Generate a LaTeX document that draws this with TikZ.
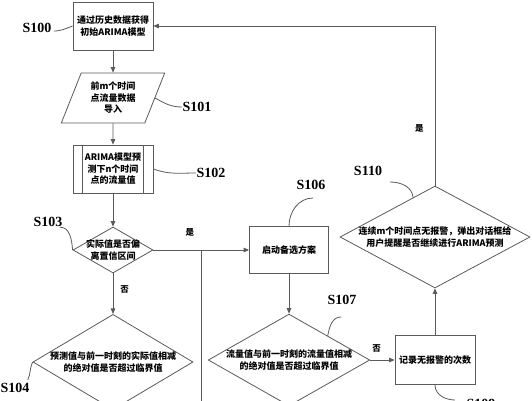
\documentclass[tikz,border=0pt]{standalone}
\usepackage{fontspec}
\setmainfont{Liberation Serif}
\newfontfamily\cjk{Noto Sans CJK SC}
\usetikzlibrary{arrows.meta,shapes.geometric}
\definecolor{lineGris}{HTML}{5A5A5A}

\begin{document}
\begin{tikzpicture}[
        x=1pt,
        y=1pt,
        >={Triangle[length=5.5pt,width=4.5pt]},
        line width=0.8pt,
        every node/.style={font=\cjk\bfseries\fontsize{9}{11.5}\selectfont, align=center, inner sep=0pt},
        box/.style={draw=lineGris, rectangle, minimum width=80pt, minimum height=48pt},
        io/.style={draw=lineGris, trapezium, trapezium left angle=66, trapezium right angle=114,
            trapezium stretches=true, minimum width=104pt, minimum height=50pt},
        dec/.style={draw=lineGris, diamond},
        flow/.style={->, draw=lineGris},
        lead/.style={draw=lineGris},
        tag/.style={font=\rmfamily\bfseries\fontsize{14}{16}\selectfont},
        yn/.style={font=\cjk\bfseries\fontsize{8.5}{10}\selectfont}
    ]
        \useasboundingbox (0,0) rectangle (532,-400);

        % Main column: steps S100 to S104.
        \node[box] (b100) at (113,-26) {通过历史数据获得\\初始ARIMA模型};
        \node[io] (p101) at (113,-98) {前m个时间\\点流量数据\\导入};
        \node[box] (b102) at (113,-169) {ARIMA模型预\\测下n个时间\\点的流量值};
        \draw[lead] ([xshift=10pt]b102.north west) -- ([xshift=10pt]b102.south west);
        \draw[lead] ([xshift=-10pt]b102.north east) -- ([xshift=-10pt]b102.south east);
        \node[dec, minimum width=80pt, minimum height=46pt, aspect=1.74, inner xsep=-5pt] (d103) at (113,-250) {实际值是否偏\\离置信区间};
        \node[dec, minimum width=158pt, minimum height=94pt, aspect=1.68] (d104) at (113,-362) {预测值与前一时刻的实际值相减\\的绝对值是否超过临界值};

        % Right part: S106 to S110.
        \node[box, minimum width=79pt, minimum height=47pt] (b106) at (289,-250) {启动备选方案};
        \node[dec, minimum width=158pt, minimum height=90pt, aspect=1.76] (d107) at (289,-360) {流量值与前一时刻的流量值相减\\的绝对值是否超过临界值};
        \node[box, minimum height=49pt] (b109) at (435,-360) {记录无报警的次数};
        \node[dec, minimum width=190pt, minimum height=102pt, aspect=1.86, inner xsep=-2pt] (d110) at (435,-237) {连续m个时间点无报警，弹出对话框给\\用户提醒是否继续进行ARIMA预测};

        % Connectors.
        \draw[flow] (b100) -- (p101);
        \draw[flow] (p101) -- (b102);
        \draw[flow] (b102) -- (d103);
        \draw[flow] (d103) -- (d104) node[pos=0.4, right=7pt, yn] (no103) {否};
        \draw[flow] (d103) -- (b106) node[pos=0.38, above=13pt, yn] (yes103) {是};
        \coordinate (j1) at (201,-250);
        \coordinate (j2) at (201,-410);
        \draw[lead] (j2) -- (j1);
        \draw[flow] (b106) -- (d107);
        \draw[flow] (d107) -- (b109) node[pos=0.26, above=7pt, yn] (no107) {否};
        \draw[flow] (b109) -- (d110);
        \draw[flow] (d110.north) |- (b100.east) node[pos=0.18, left=11pt, yn] (yes110) {是};

        % Step labels and their leaders.
        \node[tag] (l100) at (37,-28) {S100};
        \node[tag] (l101) at (197,-107) {S101};
        \node[tag] (l102) at (211,-173) {S102};
        \node[tag] (l103) at (48,-222) {S103};
        \node[tag] (l104) at (15,-388) {S104};
        \node[tag] (l106) at (311,-185) {S106};
        \node[tag] (l107) at (342,-300) {S107};
        \node[tag] (l109) at (481,-404) {S109};
        \node[tag] (l110) at (368,-171) {S110};
        \coordinate (e106) at (313,-198);
        \coordinate (e107) at (341,-317);
        \coordinate (e109) at (455,-400);
        \coordinate (e110) at (390,-182);

        \draw[lead] ([xshift=2pt,yshift=-3pt]l100.east) to[out=0,in=200] (b100.west);
        \draw[lead] (p101.east) to[out=-30,in=180] (l101.west);
        \draw[lead] (b102.east) to[out=-20,in=180] (l102.west);
        \draw[lead] ([xshift=-3pt]l103.south east) to[out=0,in=95] (d103.west);
        \draw[lead] (d104.west) to[out=-115,in=65] ([xshift=-2pt,yshift=3pt]l104.north east);
        \draw[lead] (b106.north) to[out=90,in=180] (e106);
        \draw[lead] (d107.32) to[out=80,in=180] (e107);
        \draw[lead] (b109.south) to[out=-90,in=180] (e109);
        \draw[lead] (e110) to[out=0,in=95] (d110.119);
    \end{tikzpicture}
\end{document}
